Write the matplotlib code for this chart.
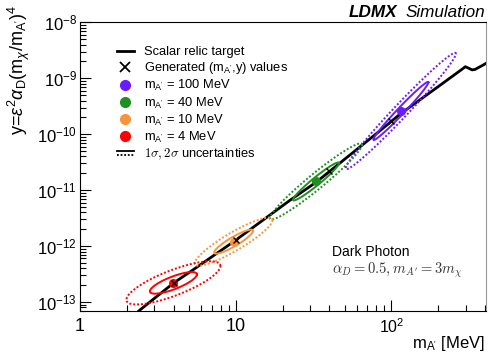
import matplotlib
matplotlib.use("Agg")
import matplotlib.pyplot as plt
import numpy as np
from matplotlib.lines import Line2D
from matplotlib.legend_handler import HandlerBase

plt.rcParams["font.family"] = "Liberation Sans"
plt.rcParams["mathtext.fontset"] = "custom"
plt.rcParams["mathtext.rm"] = "Liberation Sans"
plt.rcParams["mathtext.it"] = "Liberation Sans:italic"
plt.rcParams["mathtext.bf"] = "Liberation Sans:bold"

# Scalar relic target curve (m_A' [MeV], y)
relic_m = [2.2, 2.41, 4.0, 5.35, 9.7, 22.5, 33, 81, 114, 200, 290, 298, 315, 330, 345, 365, 385, 410]
relic_y = [5.6e-14, 7.1e-14, 2.2e-13, 3.8e-13, 1.2e-12, 6.7e-12, 1.4e-11, 1.05e-10, 2.3e-10,
           7.1e-10, 1.51e-9, 1.61e-9, 1.5e-9, 1.41e-9, 1.44e-9, 1.57e-9, 1.7e-9, 1.88e-9]

# generated points
gen_m = [4, 10, 40, 100]
gen_y = [2.2e-13, 1.27e-12, 2.2e-11, 1.7e-10]

# fitted values and uncertainties (log10 space)
labels = ["100 MeV", "40 MeV", "10 MeV", "4 MeV"]
colors = ["#6a1cff", "#1f8f1f", "#f7953a", "#ff0000"]
fit_m = [115, 32.8, 9.7, 3.98]
fit_y = [2.6e-10, 1.43e-11, 1.2e-12, 2.2e-13]
sig_logm = [0.177, 0.148, 0.125, 0.151]
sig_logy = [0.52, 0.34, 0.215, 0.193]
rho = [0.985, 0.965, 0.9, 0.78]


class TwoLines(HandlerBase):
    def create_artists(self, legend, orig_handle, xdescent, ydescent,
                       width, height, fontsize, trans):
        y = height / 2 - ydescent
        l1 = Line2D([-xdescent, width - xdescent], [y + 1.6, y + 1.6], color="black", lw=1.3)
        l2 = Line2D([-xdescent, width - xdescent], [y - 1.6, y - 1.6], color="black", lw=1.3,
                    ls=(0, (1, 1)))
        l1.set_transform(trans)
        l2.set_transform(trans)
        return [l1, l2]


fig = plt.figure(figsize=(4.98, 3.64), dpi=100)
ax = fig.add_axes([80 / 498, 1 - 310.7 / 364, 406 / 498, 288.4 / 364])

ax.plot(relic_m, relic_y, color="black", lw=2, zorder=3)

t = np.linspace(0, 2 * np.pi, 300)
for i in range(4):
    cx, cy = np.log10(fit_m[i]), np.log10(fit_y[i])
    cov = np.array([[sig_logm[i] ** 2, rho[i] * sig_logm[i] * sig_logy[i]],
                    [rho[i] * sig_logm[i] * sig_logy[i], sig_logy[i] ** 2]])
    L = np.linalg.cholesky(cov)
    circ = np.vstack([np.cos(t), np.sin(t)])
    for k, ls in [(1, "-"), (2, (0, (1, 1)))]:
        pts = k * L @ circ
        ax.plot(10 ** (cx + pts[0]), 10 ** (cy + pts[1]), color=colors[i], lw=1.4, ls=ls, zorder=4)
    ax.plot(fit_m[i], fit_y[i], "o", color=colors[i], ms=5.5, zorder=5)

ax.plot(gen_m, gen_y, "x", color="black", ms=4, mew=1, zorder=6)

ax.set_xscale("log")
ax.set_yscale("log")
ax.set_xlim(1, 405)
ax.set_ylim(7e-14, 1e-8)

ax.set_xticks([1, 10, 100])
ax.set_xticklabels(["1", "10", r"10$^{2}$"])
ax.set_yticks([1e-13, 1e-12, 1e-11, 1e-10, 1e-9, 1e-8])
ax.set_yticklabels([r"10$^{-13}$", r"10$^{-12}$", r"10$^{-11}$", r"10$^{-10}$",
                    r"10$^{-9}$", r"10$^{-8}$"])
ax.tick_params(which="both", direction="in", top=False, right=False)
ax.tick_params(axis="y", labelsize=12, pad=2)
ax.tick_params(axis="x", labelsize=13, pad=5)
ax.tick_params(which="major", length=8, width=0.8)
ax.tick_params(which="minor", length=4.5, width=0.8)
ax.get_xticklabels()[2].set_fontsize(11.5)
ax.spines["right"].set_color("#999999")

handles = [Line2D([], [], color="black", lw=2),
           Line2D([], [], marker="x", color="black", ls="none", ms=7, mew=1.3)]
for c in colors:
    handles.append(Line2D([], [], marker="o", color=c, ls="none", ms=7))
handles.append(Line2D([], []))
leg_labels = ["Scalar relic target", r"Generated (m$_{\mathrm{A'}}$,y) values"]
leg_labels += [r"m$_{\mathrm{A'}}$ = " + s for s in labels]
leg_labels += [r"$1\sigma, 2\sigma$ uncertainties"]
leg = ax.legend(handles, leg_labels, loc="upper left", bbox_to_anchor=(0.075, 0.94),
                frameon=False, fontsize=9.3, handlelength=1.3, handletextpad=0.8,
                labelspacing=0.16, borderpad=0,
                handler_map={handles[-1]: TwoLines()})
leg.get_texts()[-1].set_math_fontfamily("cm")

ax.text(0.62, 0.19, "Dark Photon", transform=ax.transAxes, fontsize=10)
ax.text(0.62, 0.13, r"$\alpha_D = 0.5, m_{A'} = 3m_\chi$", transform=ax.transAxes,
        fontsize=10.5, math_fontfamily="cm", color="#333333")

fig.text(485 / 498, 1 - 348 / 364, r"m$_{\mathrm{A'}}$ [MeV]", ha="right", va="baseline", fontsize=12)
fig.text(19 / 498, 1 - 5 / 364,
         r"y=$\varepsilon^{2}\alpha_{\mathrm{D}}(\mathrm{m}_{\chi}/\mathrm{m}_{\mathrm{A'}})^{4}$",
         rotation=90, ha="center", va="top", fontsize=13)
fig.text(485 / 498, 1 - 17 / 364, "Simulation", ha="right", va="baseline", fontsize=12.3,
         style="italic")
fig.text(349 / 498, 1 - 17 / 364, "LDMX", ha="left", va="baseline", fontsize=12.3,
         style="italic", weight="bold")

fig.savefig("out.png", dpi=100)
